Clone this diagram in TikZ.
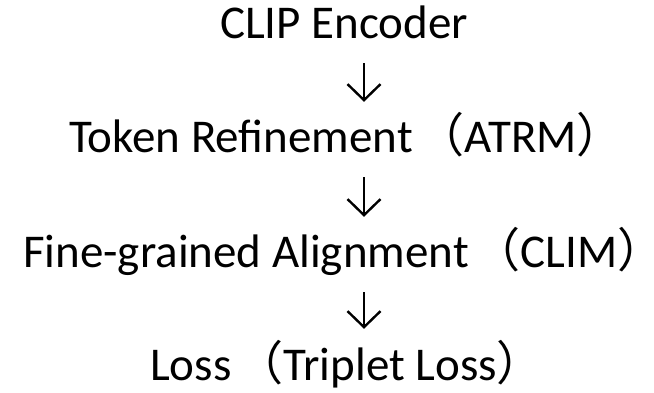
\documentclass[tikz,border=0pt]{standalone}
\usepackage{fontspec}
\setmainfont{Carlito}
\newfontfamily\cjk{Noto Sans CJK SC}
\usetikzlibrary{arrows.meta, positioning}
\newcommand{\lpar}{\hspace{5pt}{\cjk （}}
\newcommand{\rpar}{\makebox[0.5em][l]{\cjk ）}}

\begin{document}
\begin{tikzpicture}[x=1pt, y=-1pt,
    stage/.style={inner sep=0pt, anchor=base west, text height=29pt, text depth=0pt,
        font=\fontsize{47}{56}\selectfont},
    flow/.style={-{Straight Barb[length=16pt, width=33pt]}, line width=2.4pt,
        shorten <=24pt, shorten >=22pt}]
    \useasboundingbox (0,0) rectangle (654,393);

    % stages
    \node[stage] (clip) at (220,39) {CLIP Encoder};
    \node[stage] (refine) at (69,153) {Token Refinement\lpar ATRM\rpar};
    \node[stage] (align) at (23,268) {Fine-grained Alignment\lpar CLIM\rpar};
    \node[stage] (loss) at (150,380) {Loss\lpar Triplet Loss\rpar};

    % arrows
    \coordinate (ax) at (364,0);
    \draw[flow] (clip.south -| ax) -- (refine.north -| ax);
    \draw[flow] (refine.south -| ax) -- (align.north -| ax);
    \draw[flow] (align.south -| ax) -- (loss.north -| ax);
\end{tikzpicture}
\end{document}
